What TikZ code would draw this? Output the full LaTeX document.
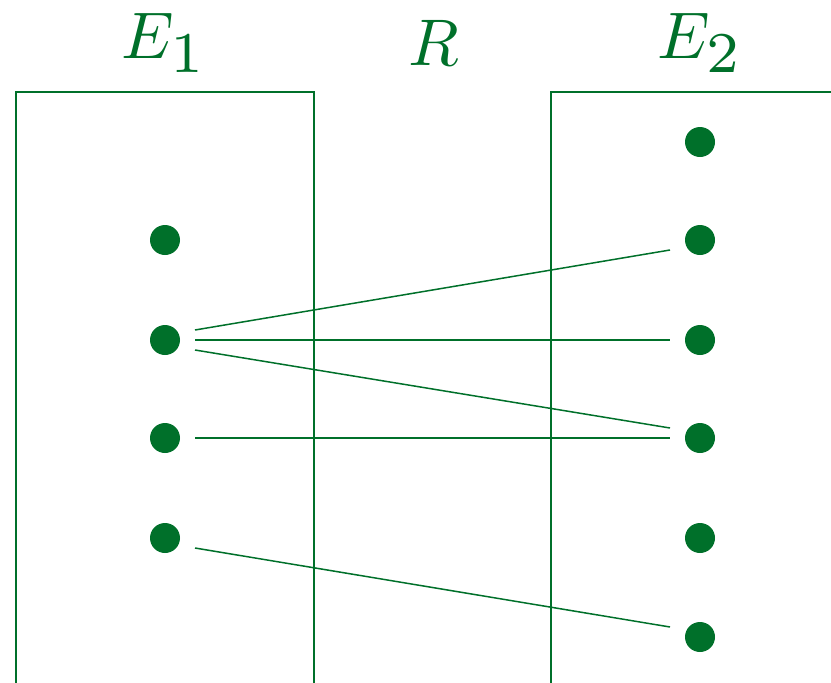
\documentclass[tikz,border=0pt]{standalone}
\usepackage{graphicx}
\definecolor{dg}{HTML}{00702A}
\newcommand{\bigsub}[1]{\scalebox{1.25}{$\scriptstyle #1$}}
\begin{document}
\begin{tikzpicture}[x=1pt,y=-1pt,
  pt/.style={rectangle,minimum width=60pt,minimum height=20pt,inner sep=0pt,outer sep=0pt},
  lnk/.style={draw=dg,line width=1.5pt},
  frame/.style={draw=dg,line width=1.6pt},
  lab/.style={text=dg,anchor=base,inner sep=0pt}]
\useasboundingbox (0,0) rectangle (831,683);
\draw[frame] (16,690) -- (16,92) -- (314,92) -- (314,690);
\draw[frame] (551,690) -- (551,92) -- (840,92);
\node[lab] (t1) at (164,58) {\scalebox{6.6}{$E_{\bigsub{1}}$}};
\node[lab] (tr) at (434,65) {\scalebox{6.6}{$R$}};
\node[lab] (t2) at (700,58) {\scalebox{6.6}{$E_{\bigsub{2}}$}};
\foreach \n/\y in {1/240,2/340,3/438,4/538}{
  \node[pt] (a\n) at (165,\y) {};
  \fill[dg] (a\n) circle (15pt);
}
\foreach \n/\y in {0/142,1/240,2/340,3/438,4/538,5/637}{
  \node[pt] (b\n) at (700,\y) {};
  \fill[dg] (b\n) circle (15pt);
}
\draw[lnk] (a2.north east) -- (b1.south west);
\draw[lnk] (a2.east) -- (b2.west);
\draw[lnk] (a2.south east) -- (b3.north west);
\draw[lnk] (a3.east) -- (b3.west);
\draw[lnk] (a4.south east) -- (b5.north west);
\end{tikzpicture}
\end{document}
